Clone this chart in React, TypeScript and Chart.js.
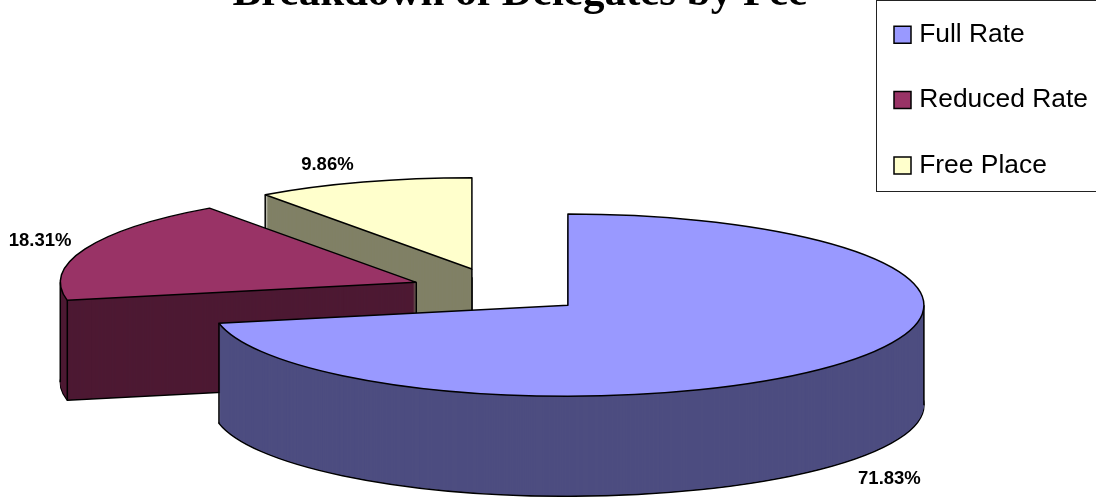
import React, { useEffect, useRef } from "react";
import { Chart, registerables } from "chart.js";

Chart.register(...registerables);

const categories = ["Full Rate", "Reduced Rate", "Free Place"];
const shares = [71.83, 18.31, 9.86];
const topColors = ["#9999FF", "#993366", "#FFFFCC"];
const wallColors = ["#4D4D80", "#4D1933", "#808066"];
const labelNudges = [
  [46, 16],
  [-45, -7.5],
  [-36, -17.5],
];
const chartTitle = "Breakdown of Delegates by Fee";

const TILT = 0.256;
const DEPTH = 100;
const EXPLODE = 89;

function pie3dGeometry(arc: any) {
  const mid = (arc.startAngle + arc.endAngle) / 2;
  return {
    cx: arc.x + Math.cos(mid) * EXPLODE,
    cy: arc.y + Math.sin(mid) * EXPLODE * TILT,
    rx: arc.outerRadius,
    ry: arc.outerRadius * TILT,
    start: arc.startAngle,
    end: arc.endAngle,
  };
}

function slicePath(ctx: CanvasRenderingContext2D, g: any, d: number) {
  ctx.beginPath();
  ctx.moveTo(g.cx, g.cy + d);
  ctx.ellipse(g.cx, g.cy + d, g.rx, g.ry, 0, g.start, g.end);
  ctx.closePath();
}

const pie3d = {
  id: "pie3d",
  afterLayout(chart: any) {
    const legend = chart.legend;
    legend.left = 860;
    legend.top = -17.5;
    chart.titleBlock.left = 0;
    chart.titleBlock.right = 1040;
  },
  beforeDatasetDraw(chart: any) {
    const ctx: CanvasRenderingContext2D = chart.ctx;
    const arcs = chart.getDatasetMeta(0).data;
    ctx.save();
    ctx.lineWidth = 1.5;
    ctx.strokeStyle = "#000";
    ctx.lineJoin = "round";
    for (let i = arcs.length - 1; i >= 0; i--) {
      const g = pie3dGeometry(arcs[i]);
      ctx.fillStyle = wallColors[i];
      slicePath(ctx, g, DEPTH);
      ctx.fill();
      ctx.stroke();
      for (let d = DEPTH - 1; d > 0; d--) {
        slicePath(ctx, g, d);
        ctx.fill();
      }
      const startFaceVisible = Math.cos(g.start) < -1e-6;
      const endFaceVisible = Math.cos(g.end) > 1e-6;
      const uprights: number[] = [];
      if (startFaceVisible || Math.sin(g.start) > 0) uprights.push(g.start);
      if (endFaceVisible || Math.sin(g.end) > 0) uprights.push(g.end);
      for (const k of [-1, 0, 1, 2]) {
        const a = k * Math.PI;
        if (a > g.start && a < g.end) uprights.push(a);
      }
      ctx.beginPath();
      if (startFaceVisible || endFaceVisible) {
        ctx.moveTo(g.cx, g.cy);
        ctx.lineTo(g.cx, g.cy + DEPTH);
      }
      for (const a of uprights) {
        const x = g.cx + Math.cos(a) * g.rx;
        const y = g.cy + Math.sin(a) * g.ry;
        ctx.moveTo(x, y);
        ctx.lineTo(x, y + DEPTH);
      }
      ctx.stroke();
      ctx.fillStyle = topColors[i];
      slicePath(ctx, g, 0);
      ctx.fill();
      ctx.stroke();
    }
    ctx.restore();
    return false;
  },
  afterDatasetsDraw(chart: any) {
    const ctx: CanvasRenderingContext2D = chart.ctx;
    const arcs = chart.getDatasetMeta(0).data;
    ctx.save();
    ctx.font = 'bold 18.5px "Liberation Sans"';
    ctx.fillStyle = "#000";
    ctx.textAlign = "center";
    ctx.textBaseline = "middle";
    arcs.forEach((arc: any, i: number) => {
      const g = pie3dGeometry(arc);
      const mid = (g.start + g.end) / 2;
      const below = Math.sin(mid) > 0 ? DEPTH : 0;
      const x = g.cx + Math.cos(mid) * g.rx + labelNudges[i][0];
      const y = g.cy + Math.sin(mid) * g.ry + below + labelNudges[i][1];
      ctx.fillText(shares[i].toFixed(2) + "%", x, y);
    });
    ctx.restore();
  },
  afterDraw(chart: any) {
    const ctx: CanvasRenderingContext2D = chart.ctx;
    ctx.save();
    ctx.strokeStyle = "#222";
    ctx.lineWidth = 1;
    ctx.strokeRect(876.5, 0.5, 230, 191);
    ctx.restore();
  },
};

export default function App() {
  const ref = useRef<HTMLCanvasElement>(null);
  useEffect(() => {
    document.body.style.margin = "0";
    const chart = new Chart(ref.current as HTMLCanvasElement, {
      type: "pie",
      data: {
        labels: categories,
        datasets: [
          {
            data: shares,
            backgroundColor: topColors,
            borderColor: "#000",
            borderWidth: 1.5,
          },
        ],
      },
      options: {
        animation: false,
        responsive: false,
        radius: 356,
        layout: { padding: { left: 140, right: 0, top: 0, bottom: 0 } },
        plugins: {
          tooltip: { enabled: false },
          title: {
            display: true,
            text: chartTitle,
            color: "#000",
            font: { family: '"Liberation Serif"', size: 43, weight: "bold" },
            padding: { top: -31.8, bottom: 64.6 },
          },
          legend: {
            position: "right",
            align: "start",
            labels: {
              usePointStyle: true,
              pointStyle: "rect",
              boxWidth: 7,
              boxHeight: 17,
              padding: 39,
              color: "#000",
              font: { family: '"Liberation Sans"', size: 26.4 },
            },
          },
        },
      },
      plugins: [pie3d],
    } as any);
    return () => chart.destroy();
  }, []);
  return (
    <div style={{ width: 1096, height: 497, overflow: "hidden" }}>
      <canvas ref={ref} width={1096} height={497} style={{ display: "block" }} />
    </div>
  );
}
